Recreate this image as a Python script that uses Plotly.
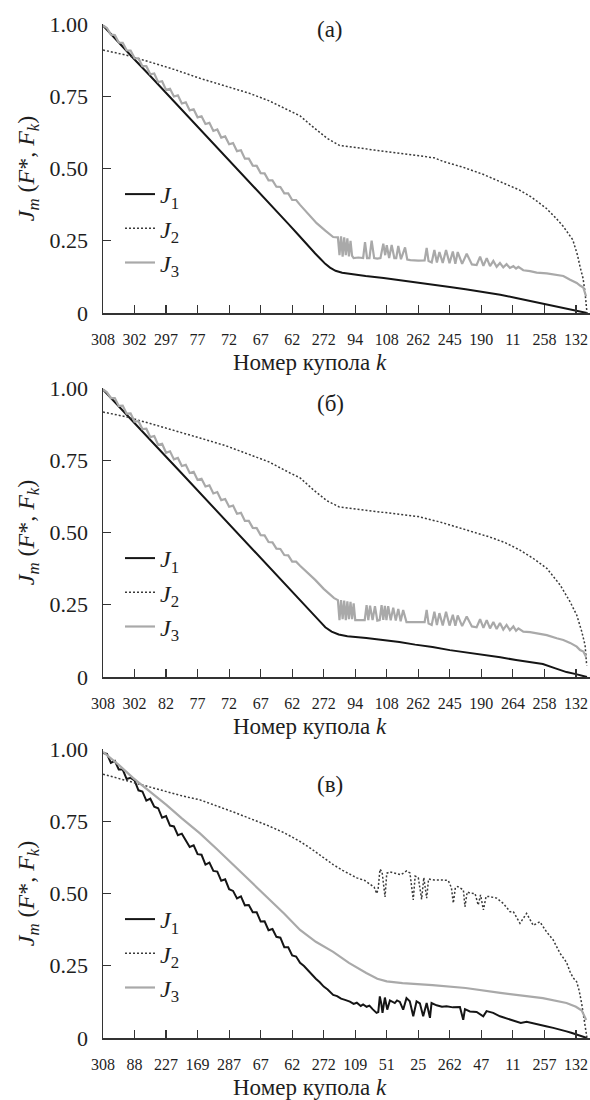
import plotly.graph_objects as go

# ---------------- tick labels (dome numbers k) ----------------
TICK_IDX = [0, 20, 40, 60, 80, 100, 120, 140, 160, 180, 200, 220, 240, 260, 280, 300]
TICKS_A = ["308", "302", "297", "77", "72", "67", "62", "272", "94", "108", "262", "245", "190", "11", "258", "132"]
TICKS_B = ["308", "302", "82", "77", "72", "67", "62", "272", "94", "108", "262", "245", "190", "264", "258", "132"]
TICKS_C = ["308", "88", "227", "169", "287", "67", "62", "272", "109", "51", "25", "262", "47", "11", "257", "132"]

Y_TICKS = [0, 0.25, 0.5, 0.75, 1.0]
Y_TICKTEXT = ["0", "0.25", "0.50", "0.75", "1.00"]

# sample positions (rank of dome along the x axis) for oscillating parts
LEFT_IDX = [0, 2.5, 5, 7.5, 10, 12.5, 15, 17.5, 20, 22.5, 25, 27.5, 30, 32.5, 35, 37.5,
            40, 42.5, 45, 47.5, 50, 52.5, 55, 57.5, 60, 62.5, 65, 67.5, 70, 72.5, 75, 77.5,
            80, 82.5, 85, 87.5, 90, 92.5, 95, 97.5, 100, 102.5, 105, 107.5, 110, 112.5,
            115, 117.5, 120, 122.5, 125]

# ---------------- panel (а) ----------------
A_J1_X = [0, 10, 20, 30, 40, 50, 60, 70, 80, 90,
          100, 110, 118, 124, 129, 134.6, 138, 141, 144, 147.5,
          151.7, 158, 166.6, 178, 188, 198, 209, 220, 230, 241,
          252, 262, 270, 277, 285, 294, 300, 304, 307]
A_J1_Y = [0.995, 0.935, 0.877, 0.82, 0.762, 0.703, 0.645, 0.586, 0.528, 0.47,
          0.412, 0.353, 0.306, 0.27, 0.238, 0.206, 0.187, 0.17, 0.157, 0.146,
          0.139, 0.134, 0.128, 0.121, 0.114, 0.107, 0.100, 0.090, 0.082, 0.073,
          0.063, 0.052, 0.043, 0.035, 0.026, 0.014, 0.009, 0.004, 0.0]

A_J2_X = [0, 15, 30, 45, 61.5, 78, 93, 105, 118, 125,
          134, 142, 150, 160, 172, 188, 200, 210, 216, 228,
          241, 252, 264, 272, 281, 287, 292, 298, 301, 302.6,
          304.5, 305.8, 307]
A_J2_Y = [0.91, 0.892, 0.868, 0.843, 0.812, 0.786, 0.76, 0.735, 0.7, 0.682,
          0.64, 0.605, 0.58, 0.572, 0.564, 0.553, 0.545, 0.537, 0.524, 0.505,
          0.48, 0.455, 0.426, 0.4, 0.363, 0.33, 0.299, 0.253, 0.2, 0.16,
          0.12, 0.07, 0.0]

A_J3_X = LEFT_IDX + [
    130, 135.5, 141, 146, 149,
    150, 151, 152, 153, 154, 155, 156, 157, 158, 159,
    162, 165,
    166.2, 167.5, 169, 170.4, 172, 174, 176, 177.8, 179, 180,
    181.5, 183.1, 184.8, 186, 187.3, 189, 191.6, 193, 195,
    200, 204, 205.3, 206.5, 208.5,
    210.2, 211.8, 213.4, 215.5, 217.6, 219.8, 221.9, 223.5, 225, 227.8, 230.7,
    234, 237, 239.2, 241.3, 243.4, 245.5, 247.6, 249.7, 251.8, 253.9, 256, 258.1, 260.3, 262, 263.5,
    266.6, 270.9, 275.1, 281.5, 287.8, 292, 296.3, 300.5, 302.6, 304.7, 306.4]
A_J3_Y = [
    0.995, 0.986, 0.963, 0.962, 0.936, 0.935, 0.909, 0.908, 0.882, 0.881,
    0.854, 0.854, 0.826, 0.829, 0.799, 0.802, 0.772, 0.776, 0.749, 0.753,
    0.725, 0.729, 0.701, 0.705, 0.677, 0.681, 0.654, 0.658, 0.630, 0.635,
    0.607, 0.611, 0.584, 0.588, 0.560, 0.563, 0.534, 0.534, 0.510, 0.509,
    0.484, 0.483, 0.459, 0.459, 0.437, 0.436, 0.414, 0.414, 0.391, 0.391,
    0.374,
    0.345, 0.311, 0.285, 0.263, 0.262,
    0.2, 0.265, 0.195, 0.262, 0.2, 0.258, 0.196, 0.25, 0.198, 0.19,
    0.192, 0.19,
    0.245, 0.19, 0.19, 0.25, 0.19, 0.188, 0.19, 0.24, 0.2, 0.235,
    0.19, 0.235, 0.19, 0.19, 0.232, 0.186, 0.227, 0.185, 0.183,
    0.181, 0.182, 0.225, 0.18, 0.175,
    0.218, 0.175, 0.211, 0.173, 0.218, 0.172, 0.213, 0.17, 0.211, 0.17, 0.205,
    0.168, 0.166, 0.195, 0.163, 0.19, 0.162, 0.18, 0.16, 0.173, 0.158, 0.169, 0.156, 0.162, 0.154, 0.16,
    0.148, 0.145, 0.14, 0.137, 0.13, 0.128, 0.115, 0.104, 0.095, 0.088, 0.058]

# ---------------- panel (б) ----------------
B_J1_X = [0, 10, 20, 30, 40, 50, 60, 70, 80, 90,
          100, 110, 118, 124, 129, 134.6, 138, 141, 145, 149.5,
          155, 167, 178, 188, 198, 209, 220, 230, 241, 252,
          262, 270, 279, 287, 294, 300, 304, 307]
B_J1_Y = [0.995, 0.936, 0.877, 0.82, 0.762, 0.704, 0.646, 0.588, 0.53, 0.472,
          0.413, 0.355, 0.309, 0.274, 0.244, 0.21, 0.19, 0.172, 0.157, 0.147,
          0.141, 0.135, 0.128, 0.121, 0.112, 0.104, 0.093, 0.086, 0.076, 0.068,
          0.059, 0.052, 0.045, 0.03, 0.017, 0.01, 0.005, 0.0]

B_J2_X = [0, 15, 30, 45, 61.5, 78, 93, 105, 118.6, 125,
          134, 142, 150, 165, 182, 200, 214, 230, 245.5, 255,
          264.5, 273, 281.5, 290, 296.3, 300.5, 303.7, 305.8, 306.8]
B_J2_Y = [0.917, 0.9, 0.877, 0.852, 0.827, 0.8, 0.77, 0.745, 0.706, 0.689,
          0.645, 0.61, 0.588, 0.578, 0.567, 0.555, 0.536, 0.51, 0.484, 0.465,
          0.439, 0.41, 0.376, 0.318, 0.26, 0.214, 0.157, 0.11, 0.04]

B_J3_X = LEFT_IDX + [
    130, 134.6, 140, 146.6, 149,
    150, 151, 152, 153, 154, 155, 156, 157, 158, 159, 160,
    163, 166,
    167.2, 168.3, 169.4, 171, 172.5, 174, 175.5, 176.7, 177.8, 178.8,
    179.8, 180.9, 182.5, 184.1, 185.7, 187.3, 188.8, 190.4, 192.5, 195,
    200, 204, 205.3, 206.5, 208.5,
    210.2, 211.8, 213.4, 215.5, 217.6, 219.8, 221.9, 223.5, 225, 227.8, 230.7,
    234, 237, 239.2, 241.3, 243.4, 245.5, 247.6, 249.7, 251.8, 253.9, 256, 258.1, 260.3, 262, 263.5,
    266.6, 270.9, 275.1, 281.5, 287.8, 292, 296.3, 300.5, 302.6, 304.7, 306.4]
B_J3_Y = [
    0.995, 0.985, 0.965, 0.965, 0.938, 0.939, 0.911, 0.912, 0.884, 0.885,
    0.858, 0.859, 0.830, 0.834, 0.803, 0.807, 0.776, 0.781, 0.753, 0.758,
    0.730, 0.734, 0.706, 0.710, 0.682, 0.686, 0.659, 0.663, 0.635, 0.640,
    0.612, 0.616, 0.589, 0.593, 0.565, 0.568, 0.540, 0.540, 0.516, 0.515,
    0.491, 0.490, 0.467, 0.466, 0.444, 0.443, 0.422, 0.421, 0.399, 0.399,
    0.385,
    0.36, 0.336, 0.305, 0.273, 0.266,
    0.197, 0.266, 0.2, 0.264, 0.197, 0.262, 0.2, 0.26, 0.2, 0.255, 0.197,
    0.197, 0.197,
    0.249, 0.197, 0.247, 0.197, 0.245, 0.195, 0.197, 0.249, 0.198, 0.246,
    0.197, 0.245, 0.196, 0.24, 0.195, 0.235, 0.193, 0.232, 0.19, 0.19,
    0.189, 0.19, 0.232, 0.185, 0.18,
    0.226, 0.18, 0.221, 0.178, 0.226, 0.178, 0.215, 0.177, 0.213, 0.176, 0.209,
    0.175, 0.172, 0.2, 0.17, 0.197, 0.168, 0.19, 0.166, 0.187, 0.164, 0.18, 0.162, 0.175, 0.16, 0.168,
    0.157, 0.155, 0.152, 0.145, 0.134, 0.128, 0.118, 0.105, 0.093, 0.088, 0.07]

# ---------------- panel (в) ----------------
C_J1_X = LEFT_IDX + [
    127.5, 130, 132.5, 135, 137.5, 140, 142.5, 146, 148.5, 151,
    153.5, 156.6, 159, 161, 163.5, 165, 167.2, 169, 171, 173.5,
    174.6, 175.6, 176.5, 177.3, 178.8, 180.3, 182, 183.5, 185.1, 186.5,
    188.3, 190.4, 192.5, 194.6, 196.8, 198.9, 201, 203.1, 205.3, 207.4,
    208.4, 211.6, 215, 217.9, 222, 226.4, 228.5, 229.6, 232.7, 237,
    241.2, 243.3, 247.5, 251.8, 256, 259, 262.3, 265, 268.7, 272.9,
    277.1, 281, 285.6, 290, 294, 297, 300.4, 304, 307]
C_J1_Y = [
    0.986, 0.983, 0.952, 0.959, 0.929, 0.929, 0.896, 0.900, 0.891, 0.857,
    0.853, 0.821, 0.828, 0.800, 0.795, 0.762, 0.768, 0.735, 0.732, 0.702,
    0.707, 0.686, 0.661, 0.667, 0.636, 0.634, 0.600, 0.607, 0.578, 0.576,
    0.544, 0.549, 0.515, 0.509, 0.483, 0.490, 0.459, 0.460, 0.435, 0.435,
    0.403, 0.404, 0.373, 0.377, 0.350, 0.347, 0.314, 0.314, 0.286, 0.282,
    0.260,
    0.249, 0.233, 0.219, 0.205, 0.193, 0.178, 0.168, 0.149, 0.145, 0.136,
    0.132, 0.126, 0.118, 0.122, 0.111, 0.116, 0.108, 0.112, 0.1, 0.087,
    0.09, 0.144, 0.12, 0.087, 0.14, 0.098, 0.13, 0.125, 0.121, 0.13,
    0.125, 0.098, 0.138, 0.127, 0.075, 0.127, 0.12, 0.075, 0.121, 0.07,
    0.121, 0.113, 0.108, 0.11, 0.106, 0.107, 0.063, 0.1, 0.092, 0.09,
    0.075, 0.093, 0.087, 0.075, 0.068, 0.062, 0.058, 0.052, 0.056, 0.05,
    0.046, 0.041, 0.035, 0.03, 0.023, 0.018, 0.012, 0.006, 0.0]

C_J2_X = [0, 10, 19.2, 30, 40.4, 50, 61.5, 72, 82.7, 93, 103.8, 115, 125,
          132, 139.8, 146, 152, 161, 166, 170, 172, 173.6, 174.5,
          175.7, 177, 178.9, 180, 182, 186, 189, 192.6, 194.7, 196.8,
          198, 200, 202.1, 203.5, 205.3, 206.5, 210, 215, 219, 221,
          222.2, 223.5, 225, 228.6, 229.6, 231, 233, 236, 238, 239.5,
          241.3, 243, 245.5, 249.7, 254, 258.2, 260.3, 264.5, 268.7, 272.9,
          277.1, 281.3, 285.6, 289.8, 292, 294, 296.2, 298, 300.4, 302,
          303.6, 304.7, 305.8, 307]
C_J2_Y = [0.913, 0.898, 0.882, 0.866, 0.851, 0.838, 0.824, 0.804, 0.782, 0.76, 0.737, 0.71, 0.68,
          0.655, 0.623, 0.6, 0.58, 0.554, 0.545, 0.53, 0.522, 0.5, 0.515,
          0.584, 0.575, 0.488, 0.57, 0.575, 0.57, 0.565, 0.578, 0.571, 0.478,
          0.56, 0.555, 0.48, 0.555, 0.484, 0.55, 0.547, 0.547, 0.545, 0.52,
          0.467, 0.52, 0.524, 0.512, 0.454, 0.505, 0.501, 0.5, 0.46, 0.495,
          0.443, 0.49, 0.489, 0.484, 0.465, 0.437, 0.437, 0.397, 0.431, 0.39,
          0.402, 0.368, 0.339, 0.294, 0.275, 0.262, 0.23, 0.21, 0.195, 0.165,
          0.12, 0.08, 0.04, 0.0]

C_J3_X = [0, 10, 19, 30, 40.4, 50, 61.5, 72, 82.7, 93,
          103.8, 115, 125, 135, 146, 156, 167, 174, 180, 190,
          209, 230, 252, 265, 279, 294, 300, 303.7, 306.5]
C_J3_Y = [0.99, 0.945, 0.9, 0.853, 0.806, 0.76, 0.708, 0.655, 0.599, 0.545,
          0.489, 0.43, 0.374, 0.333, 0.298, 0.26, 0.225, 0.205, 0.196, 0.19,
          0.183, 0.173, 0.156, 0.148, 0.138, 0.121, 0.108, 0.095, 0.062]

SERIES_NAMES = ["<i>J</i><sub>1</sub>", "<i>J</i><sub>2</sub>", "<i>J</i><sub>3</sub>"]
PANEL_LABELS = ["(а)", "(б)", "(в)"]

# ---------------- figure ----------------
W, H = 590, 1100
ML = 103
PW = W - ML
FONT = "Liberation Serif, Times New Roman, Tinos, DejaVu Serif, serif"
AX_COL = "#333333"
TXT_COL = "#1e1e1e"

# plot-area pixel rows: (top = value 1.00, bottom = value 0)
PANEL_PIX = [(24, 313), (388, 677), (749, 1038)]
LABEL_PIX_Y = [30, 404, 784]

styles = [
    dict(color="#151515", width=2.0),
    dict(color="#3a3a3a", width=1.5, dash="2px,2px"),
    dict(color="#a9a9a9", width=2.2),
]

panels = [
    (TICKS_A, [(A_J1_X, A_J1_Y), (A_J2_X, A_J2_Y), (A_J3_X, A_J3_Y)]),
    (TICKS_B, [(B_J1_X, B_J1_Y), (B_J2_X, B_J2_Y), (B_J3_X, B_J3_Y)]),
    (TICKS_C, [(C_J1_X, C_J1_Y), (C_J2_X, C_J2_Y), (C_J3_X, C_J3_Y)]),
]

fig = go.Figure()
annotations = []
layout_upd = {}

for i, (ticktext, series) in enumerate(panels):
    n = i + 1
    xa = "x" if n == 1 else f"x{n}"
    ya = "y" if n == 1 else f"y{n}"
    lg = "legend" if n == 1 else f"legend{n}"
    for s, ((xs, ys), name) in enumerate(zip(series, SERIES_NAMES)):
        fig.add_trace(go.Scatter(
            x=xs, y=ys, mode="lines", name=name,
            line=styles[s], xaxis=xa, yaxis=ya, legend=lg,
            hoverinfo="skip",
        ))
    top, bot = PANEL_PIX[i]
    dom = [1 - bot / H, 1 - top / H]
    layout_upd["xaxis" if n == 1 else f"xaxis{n}"] = dict(
        domain=[0, 1], range=[0, PW / 1.5765], anchor=ya, automargin=False,
        tickmode="array", tickvals=TICK_IDX, ticktext=ticktext,
        ticks="inside", ticklen=8, tickwidth=1.2, tickcolor=AX_COL,
        showline=True, linecolor=AX_COL, linewidth=1.5,
        showgrid=False, zeroline=False,
        tickfont=dict(family=FONT, size=16, color=TXT_COL),
        ticklabelstandoff=11, ticklabeloverflow="allow",
    )
    layout_upd["yaxis" if n == 1 else f"yaxis{n}"] = dict(
        domain=dom, range=[0, 1], anchor=xa, automargin=False,
        tickmode="array", tickvals=Y_TICKS, ticktext=Y_TICKTEXT,
        ticks="inside", ticklen=8, tickwidth=1.2, tickcolor=AX_COL,
        showline=True, linecolor=AX_COL, linewidth=1.5,
        showgrid=False, zeroline=False,
        tickfont=dict(family=FONT, size=22, color=TXT_COL),
        ticklabelstandoff=9, ticklabeloverflow="allow",
        title=dict(text="<i>J<sub>m</sub></i> (<i>F</i>*, <i>F<sub>k</sub></i>)",
                   font=dict(family=FONT, size=24, color=TXT_COL), standoff=8),
    )
    layout_upd[lg] = dict(
        x=(120 - ML) / PW, xanchor="left",
        y=1 - (top + 148) / H, yanchor="top",
        bgcolor="rgba(0,0,0,0)", borderwidth=0,
        font=dict(family=FONT, size=24, color=TXT_COL),
    )
    annotations.append(dict(
        text=PANEL_LABELS[i], xref="paper", yref="paper",
        x=(330 - ML) / PW, y=1 - LABEL_PIX_Y[i] / H,
        xanchor="center", yanchor="middle", showarrow=False,
        font=dict(family=FONT, size=23, color=TXT_COL),
    ))
    annotations.append(dict(
        text="Номер купола <i>k</i>", xref="paper", yref="paper",
        x=(310 - ML) / PW, y=1 - (bot + 49) / H,
        xanchor="center", yanchor="middle", showarrow=False,
        font=dict(family=FONT, size=23, color=TXT_COL),
    ))

fig.update_layout(
    width=W, height=H,
    margin=dict(l=ML, r=0, t=0, b=0, autoexpand=False),
    paper_bgcolor="white", plot_bgcolor="white",
    font=dict(family=FONT, color=TXT_COL),
    annotations=annotations,
    showlegend=True,
    **layout_upd,
)

fig.write_html("out.html",
               config={"displayModeBar": False, "staticPlot": True},
               post_script="document.body.style.margin='0';document.body.style.overflow='hidden';")
